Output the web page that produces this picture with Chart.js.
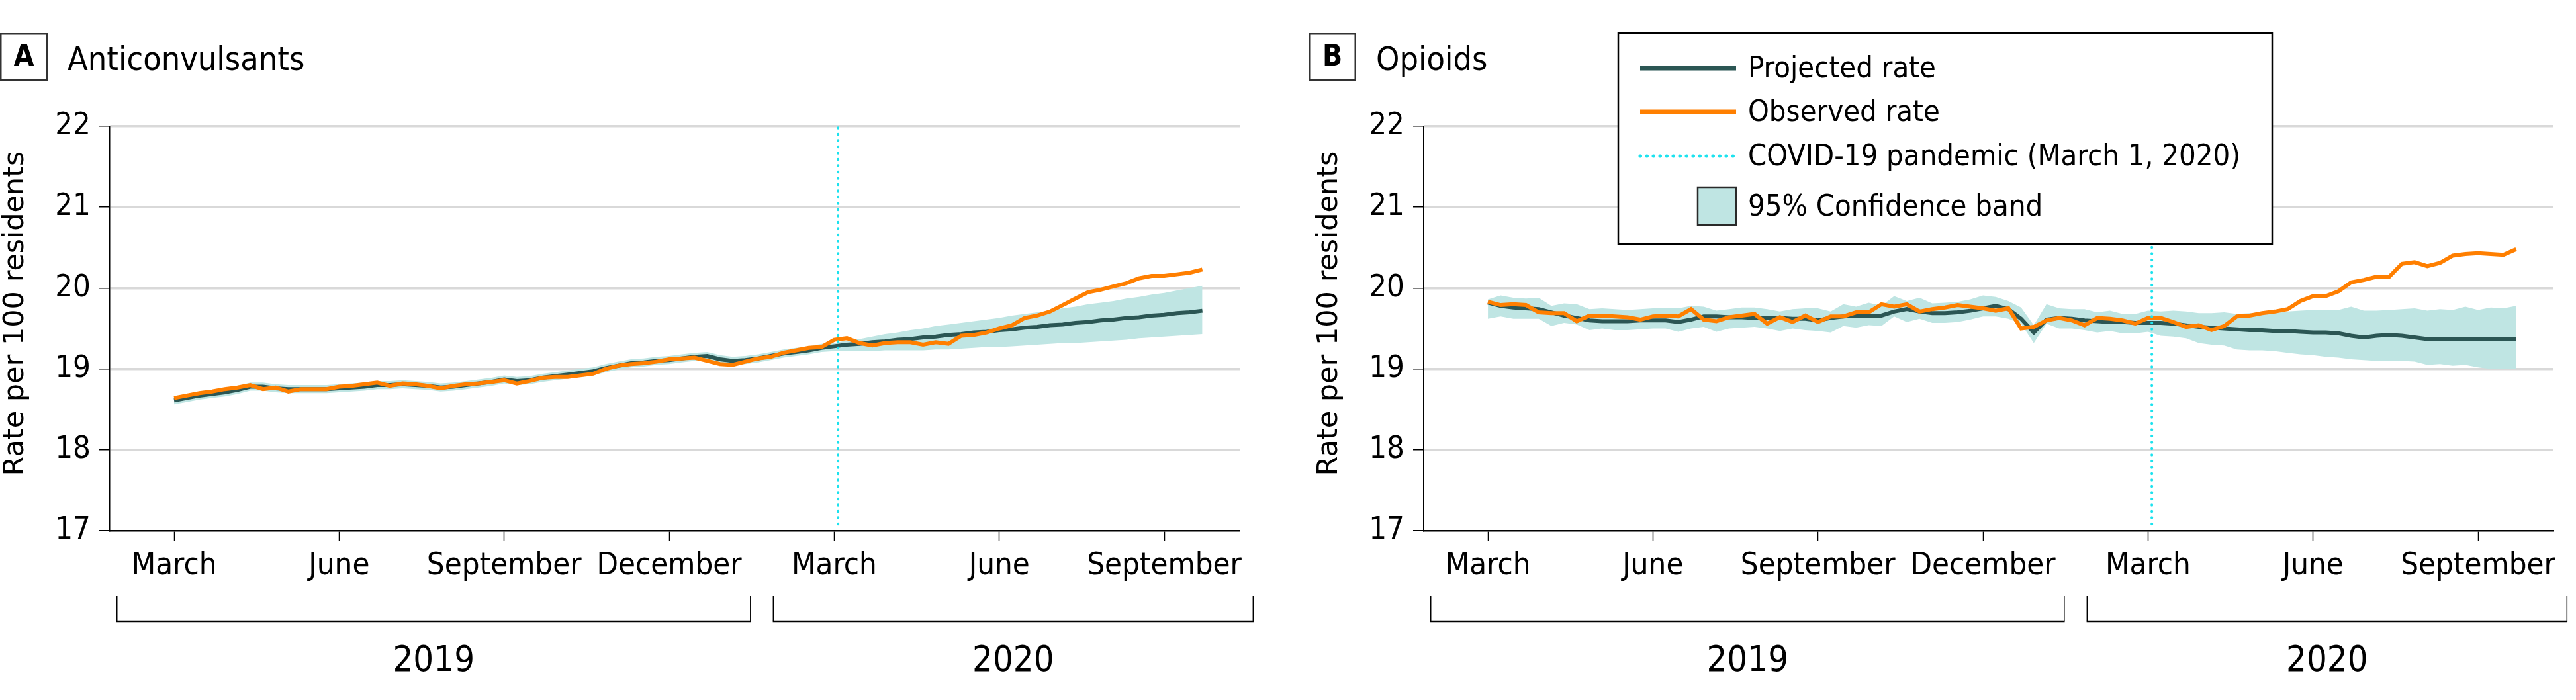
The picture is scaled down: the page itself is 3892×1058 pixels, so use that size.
<!DOCTYPE html>
<html>
<head>
<meta charset="utf-8">
<script src="https://cdn.jsdelivr.net/npm/chart.js@4.4.1/dist/chart.umd.min.js"></script>
<style>
  body { margin: 0; background: #fff; width: 3892px; height: 1058px; position: relative; overflow: hidden; }
  canvas { position: absolute; top: 0; }
  #panelA { left: 0; }
  #panelB { left: 1975px; }
</style>
</head>
<body>
<canvas id="panelA" width="1905" height="1058"></canvas>
<canvas id="panelB" width="1917" height="1058"></canvas>
<script>
// weekly rates per 100 residents, week 0 = start of March 2019
const obsA = [18.64, 18.67, 18.70, 18.72, 18.75, 18.77, 18.80, 18.75, 18.77, 18.72,
  18.75, 18.75, 18.75, 18.78, 18.79, 18.81, 18.83, 18.79, 18.82, 18.81,
  18.79, 18.76, 18.79, 18.81, 18.82, 18.84, 18.86, 18.82, 18.85, 18.89,
  18.90, 18.90, 18.92, 18.94, 19.00, 19.04, 19.06, 19.07, 19.09, 19.12,
  19.13, 19.14, 19.10, 19.06, 19.05, 19.09, 19.13, 19.15, 19.20, 19.23,
  19.26, 19.27, 19.36, 19.38, 19.32, 19.29, 19.32, 19.33, 19.33, 19.30,
  19.33, 19.31, 19.41, 19.42, 19.45, 19.50, 19.54, 19.63, 19.66, 19.71,
  19.79, 19.87, 19.95, 19.98, 20.02, 20.06, 20.12, 20.15, 20.15, 20.17,
  20.19, 20.23];
const projA = [18.61, 18.64, 18.67, 18.69, 18.71, 18.74, 18.78, 18.78, 18.76, 18.75,
  18.75, 18.75, 18.75, 18.76, 18.77, 18.78, 18.80, 18.80, 18.81, 18.80,
  18.79, 18.77, 18.78, 18.80, 18.82, 18.84, 18.87, 18.85, 18.86, 18.89,
  18.91, 18.93, 18.95, 18.97, 19.01, 19.04, 19.07, 19.08, 19.10, 19.11,
  19.13, 19.15, 19.16, 19.12, 19.10, 19.11, 19.13, 19.16, 19.19, 19.21,
  19.23, 19.26, 19.28, 19.30, 19.31, 19.33, 19.34, 19.36, 19.37, 19.39,
  19.40, 19.42, 19.43, 19.45, 19.46, 19.48, 19.49, 19.51, 19.52, 19.54,
  19.55, 19.57, 19.58, 19.60, 19.61, 19.63, 19.64, 19.66, 19.67, 19.69,
  19.70, 19.72];
const lowA = [18.56, 18.59, 18.62, 18.64, 18.66, 18.69, 18.73, 18.73, 18.71, 18.70,
  18.70, 18.70, 18.70, 18.71, 18.72, 18.73, 18.75, 18.75, 18.76, 18.75,
  18.74, 18.72, 18.73, 18.75, 18.77, 18.79, 18.82, 18.80, 18.81, 18.84,
  18.86, 18.88, 18.90, 18.92, 18.96, 18.99, 19.02, 19.03, 19.05, 19.06,
  19.08, 19.10, 19.11, 19.07, 19.05, 19.06, 19.08, 19.11, 19.14, 19.16,
  19.18, 19.21, 19.22, 19.22, 19.22, 19.22, 19.23, 19.23, 19.23, 19.23,
  19.24, 19.24, 19.25, 19.26, 19.27, 19.27, 19.28, 19.29, 19.30, 19.31,
  19.32, 19.32, 19.33, 19.34, 19.35, 19.36, 19.38, 19.39, 19.40, 19.41,
  19.42, 19.43];
const upA = [18.66, 18.69, 18.72, 18.74, 18.76, 18.79, 18.83, 18.83, 18.81, 18.80,
  18.80, 18.80, 18.80, 18.81, 18.82, 18.83, 18.85, 18.85, 18.86, 18.85,
  18.84, 18.82, 18.83, 18.85, 18.87, 18.89, 18.92, 18.90, 18.91, 18.94,
  18.96, 18.98, 19.00, 19.02, 19.06, 19.09, 19.12, 19.13, 19.15, 19.16,
  19.18, 19.20, 19.21, 19.17, 19.15, 19.16, 19.18, 19.21, 19.24, 19.26,
  19.28, 19.31, 19.32, 19.35, 19.37, 19.40, 19.43, 19.45, 19.48, 19.50,
  19.53, 19.55, 19.57, 19.59, 19.61, 19.63, 19.66, 19.68, 19.70, 19.72,
  19.75, 19.77, 19.80, 19.82, 19.84, 19.87, 19.89, 19.92, 19.94, 19.97,
  20.00, 20.03];

const obsB = [19.83, 19.79, 19.80, 19.79, 19.70, 19.69, 19.69, 19.59, 19.66, 19.66,
  19.65, 19.64, 19.61, 19.65, 19.66, 19.65, 19.74, 19.61, 19.59, 19.64,
  19.66, 19.68, 19.56, 19.64, 19.58, 19.66, 19.58, 19.65, 19.65, 19.70,
  19.70, 19.80, 19.77, 19.80, 19.71, 19.74, 19.76, 19.79, 19.77, 19.75,
  19.72, 19.75, 19.50, 19.52, 19.60, 19.63, 19.60, 19.54, 19.63, 19.62,
  19.60, 19.56, 19.63, 19.63, 19.58, 19.52, 19.54, 19.48, 19.53, 19.65,
  19.66, 19.69, 19.71, 19.74, 19.84, 19.90, 19.90, 19.96, 20.07, 20.10,
  20.14, 20.14, 20.30, 20.32, 20.27, 20.31, 20.40, 20.42, 20.43, 20.42,
  20.41, 20.48];
const projB = [19.82, 19.78, 19.76, 19.75, 19.74, 19.70, 19.66, 19.63, 19.60, 19.59,
  19.59, 19.59, 19.60, 19.60, 19.60, 19.58, 19.61, 19.65, 19.65, 19.64,
  19.64, 19.63, 19.63, 19.63, 19.62, 19.62, 19.60, 19.63, 19.65, 19.66,
  19.66, 19.66, 19.71, 19.74, 19.71, 19.69, 19.69, 19.70, 19.72, 19.75,
  19.78, 19.74, 19.62, 19.45, 19.61, 19.63, 19.62, 19.60, 19.59, 19.58,
  19.58, 19.57, 19.57, 19.57, 19.56, 19.54, 19.52, 19.51, 19.50, 19.49,
  19.48, 19.48, 19.47, 19.47, 19.46, 19.45, 19.45, 19.44, 19.41, 19.39,
  19.41, 19.42, 19.41, 19.39, 19.37, 19.37, 19.37, 19.37, 19.37, 19.37,
  19.37, 19.37];
const lowB = [19.62, 19.65, 19.62, 19.62, 19.62, 19.53, 19.57, 19.55, 19.48, 19.50,
  19.48, 19.48, 19.49, 19.50, 19.50, 19.46, 19.50, 19.52, 19.46, 19.50,
  19.51, 19.52, 19.50, 19.47, 19.50, 19.48, 19.47, 19.45, 19.53, 19.51,
  19.54, 19.53, 19.65, 19.58, 19.62, 19.57, 19.57, 19.58, 19.61, 19.65,
  19.65, 19.62, 19.56, 19.32, 19.56, 19.50, 19.50, 19.48, 19.45, 19.47,
  19.44, 19.44, 19.46, 19.41, 19.40, 19.38, 19.32, 19.30, 19.29, 19.24,
  19.23, 19.23, 19.22, 19.20, 19.18, 19.17, 19.15, 19.14, 19.12, 19.11,
  19.10, 19.10, 19.10, 19.09, 19.05, 19.06, 19.04, 19.05, 19.02, 19.00,
  19.00, 19.00];
const upB = [19.86, 19.91, 19.88, 19.87, 19.88, 19.78, 19.81, 19.80, 19.74, 19.75,
  19.74, 19.73, 19.74, 19.75, 19.75, 19.75, 19.78, 19.77, 19.72, 19.74,
  19.76, 19.76, 19.74, 19.71, 19.74, 19.75, 19.75, 19.71, 19.80, 19.77,
  19.82, 19.78, 19.90, 19.84, 19.88, 19.81, 19.82, 19.83, 19.86, 19.91,
  19.89, 19.84, 19.76, 19.54, 19.80, 19.75, 19.74, 19.74, 19.70, 19.72,
  19.68, 19.68, 19.72, 19.71, 19.72, 19.71, 19.69, 19.69, 19.70, 19.68,
  19.69, 19.69, 19.69, 19.71, 19.72, 19.73, 19.73, 19.73, 19.77, 19.72,
  19.72, 19.73, 19.74, 19.75, 19.72, 19.74, 19.73, 19.77, 19.73, 19.76,
  19.75, 19.78];

const tickWeeks = [0, 13, 26, 39, 52, 65, 78];
const tickNames = ["March", "June", "September", "December", "March", "June", "September"];
const years = ["2019", "2020"];
const yearSpans = [[-4.5, 45.4], [47.2, 85]];
const covidWeek = 52.3;

const FONT = '"DejaVu Sans Condensed", "Liberation Sans Narrow", sans-serif';
const ORANGE = "#ff7f00";
const DARK = "#2b5654";
const BAND = "#bfe5e3";
const CYAN = "#1ce2ee";

Chart.defaults.font.family = FONT;
Chart.defaults.color = "#000";

const toXY = arr => arr.map((v, i) => ({ x: i, y: v }));

// panel letter, title, y title, year brackets and (panel B) the boxed legend
const panelDecor = {
  id: "panelDecor",
  afterDraw(chart, args, opts) {
    const ctx = chart.ctx;
    const area = chart.chartArea;
    const xs = chart.scales.x;
    ctx.save();
    ctx.fillStyle = "#000";

    ctx.strokeStyle = "#333";
    ctx.lineWidth = 2.5;
    ctx.strokeRect(opts.boxX + 1.25, 51.25, 69.5, 70);
    ctx.font = "bold 44px " + FONT;
    ctx.textAlign = "center";
    ctx.textBaseline = "middle";
    ctx.fillText(opts.letter, opts.boxX + 36, 88);

    ctx.font = "50px " + FONT;
    ctx.textAlign = "left";
    ctx.textBaseline = "alphabetic";
    ctx.fillText(opts.title, opts.boxX + 102, 106);

    ctx.save();
    ctx.translate(area.left - 142, 474);
    ctx.rotate(-Math.PI / 2);
    ctx.font = '43px "DejaVu Sans", sans-serif';
    ctx.textAlign = "center";
    ctx.textBaseline = "middle";
    ctx.fillText("Rate per 100 residents", 0, 0);
    ctx.restore();

    ctx.strokeStyle = "#000";
    years.forEach((yr, i) => {
      const x0 = xs.getPixelForValue(yearSpans[i][0]);
      const x1 = xs.getPixelForValue(yearSpans[i][1]);
      const top = area.bottom + 99, bot = area.bottom + 137;
      ctx.lineWidth = 1.5;
      ctx.beginPath();
      ctx.moveTo(x0, top); ctx.lineTo(x0, bot);
      ctx.moveTo(x1, top); ctx.lineTo(x1, bot);
      ctx.stroke();
      ctx.lineWidth = 2.5;
      ctx.beginPath();
      ctx.moveTo(x0 - 0.75, bot); ctx.lineTo(x1 + 0.75, bot);
      ctx.stroke();
      ctx.font = "54px " + FONT;
      ctx.textAlign = "center";
      ctx.textBaseline = "alphabetic";
      ctx.fillText(yr, (x0 + x1) / 2, area.bottom + 212);
    });

    if (opts.legend) {
      const L = { left: 470, top: 50, right: 1458, bottom: 369 };
      ctx.fillStyle = "#fff";
      ctx.fillRect(L.left, L.top, L.right - L.left, L.bottom - L.top);
      ctx.strokeStyle = "#000";
      ctx.lineWidth = 2.5;
      ctx.strokeRect(L.left, L.top, L.right - L.left, L.bottom - L.top);
      const ds = chart.data.datasets;
      const rows = [ds[2], ds[3], ds[4], ds[1]];
      const rowY = [53, 119, 186, 262];
      rows.forEach((d, i) => {
        const y = L.top + rowY[i];
        if (d.fill) {
          ctx.fillStyle = d.backgroundColor;
          ctx.fillRect(L.left + 120, y - 29, 58, 57);
          ctx.strokeStyle = "#2a2a2a";
          ctx.lineWidth = 2.5;
          ctx.strokeRect(L.left + 120, y - 29, 58, 57);
        } else {
          ctx.strokeStyle = d.borderColor;
          ctx.lineWidth = d.borderDash ? 5 : 7;
          ctx.lineCap = d.borderDash ? "round" : "butt";
          ctx.setLineDash(d.borderDash ? [0.5, 9.5] : []);
          ctx.beginPath();
          ctx.moveTo(L.left + 33, y);
          ctx.lineTo(L.left + 178, y);
          ctx.stroke();
          ctx.setLineDash([]);
        }
        ctx.fillStyle = "#000";
        ctx.font = "45px " + FONT;
        ctx.textAlign = "left";
        ctx.textBaseline = "middle";
        ctx.fillText(d.label, L.left + 196, y + 2);
      });
    }
    ctx.restore();
  }
};

function makePanel(id, cfg) {
  return new Chart(document.getElementById(id), {
    type: "line",
    data: {
      datasets: [
        { label: "", data: toXY(cfg.low), borderColor: "rgba(0,0,0,0)", borderWidth: 0, pointRadius: 0, fill: false, order: 4 },
        { label: "95% Confidence band", data: toXY(cfg.up), borderColor: "rgba(0,0,0,0)", borderWidth: 0, pointRadius: 0, backgroundColor: BAND, fill: "-1", order: 3 },
        { label: "Projected rate", data: toXY(cfg.proj), borderColor: DARK, borderWidth: 6, pointRadius: 0, order: 2 },
        { label: "Observed rate", data: toXY(cfg.obs), borderColor: ORANGE, borderWidth: 6, pointRadius: 0, order: 1 },
        { label: "COVID-19 pandemic (March 1, 2020)", data: [{ x: covidWeek, y: 17.08 }, { x: covidWeek, y: 22 }],
          borderColor: CYAN, borderWidth: 4, borderDash: [0.5, 9], borderCapStyle: "round", pointRadius: 0, order: 0 }
      ]
    },
    options: {
      responsive: false,
      animation: false,
      devicePixelRatio: 1,
      layout: { padding: { top: 191, left: cfg.padLeft, right: cfg.padRight, bottom: 0 } },
      plugins: {
        legend: { display: false },
        tooltip: { enabled: false },
        panelDecor: { letter: cfg.letter, title: cfg.title, boxX: cfg.boxX, legend: cfg.legend }
      },
      scales: {
        x: {
          type: "linear",
          min: -5.06,
          max: 83.94,
          afterBuildTicks: s => { s.ticks = tickWeeks.map(v => ({ value: v })); },
          afterFit: s => { s.height = 256; },
          ticks: {
            callback: v => tickNames[tickWeeks.indexOf(v)],
            autoSkip: false, maxRotation: 0, font: { size: 47 }, color: "#000", padding: 10
          },
          grid: { drawOnChartArea: false, tickColor: "#000", tickLength: 16, tickWidth: 1.5 },
          border: { color: "#000", width: 2.5 }
        },
        y: {
          min: 17,
          max: 22,
          afterFit: s => { s.width = 166; },
          ticks: { stepSize: 1, font: { size: 47 }, color: "#000", padding: 13 },
          grid: {
            color: c => (c.tick && c.tick.value === 17 ? "rgba(0,0,0,0)" : "#d9d9d9"),
            lineWidth: 3.5, tickColor: "#000", tickLength: 16, tickWidth: 1.5
          },
          border: { color: "#000", width: 1.5 }
        }
      }
    },
    plugins: [panelDecor]
  });
}

makePanel("panelA", { letter: "A", title: "Anticonvulsants", boxX: 0, padLeft: 0, padRight: 32,
  obs: obsA, proj: projA, low: lowA, up: upA, legend: false });
makePanel("panelB", { letter: "B", title: "Opioids", boxX: 2, padLeft: 10, padRight: 34,
  obs: obsB, proj: projB, low: lowB, up: upB, legend: true });
</script>
</body>
</html>
